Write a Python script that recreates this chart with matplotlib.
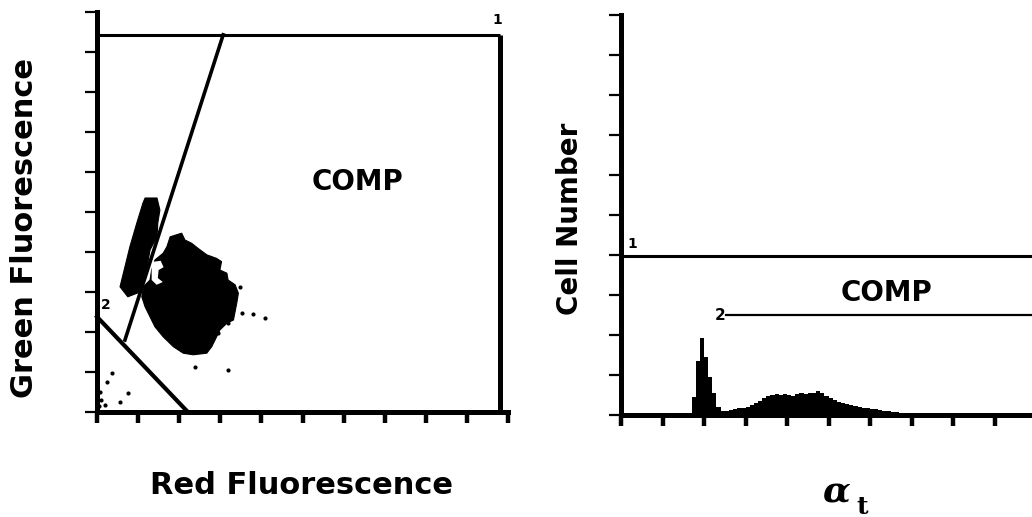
import numpy as np
import matplotlib
matplotlib.use("Agg")
import matplotlib.pyplot as plt

# ---------------- data ----------------
# Left panel: dense cell populations (outline vertices, data units 0-10)
streak_x = [1.17, 1.46, 1.53, 1.48, 1.46, 1.29, 1.22, 1.09, 1.00, 0.75, 0.56, 0.68, 0.80, 0.97, 1.12]
streak_y = [5.35, 5.35, 5.05, 4.73, 4.38, 4.05, 3.63, 3.23, 2.98, 2.88, 3.13, 3.63, 4.13, 4.73, 5.23]

blob_x = [1.78, 2.06, 2.14, 2.30, 2.46, 2.67, 2.91, 3.03, 2.99, 3.16, 3.19, 3.36, 3.44, 3.40, 3.32, 3.16,
          2.99, 2.91, 2.79, 2.67, 2.34, 2.10, 1.86, 1.61, 1.41, 1.29, 1.17, 1.09, 1.13, 1.29, 1.33, 1.41,
          1.61, 1.70]
blob_y = [4.38, 4.47, 4.30, 4.22, 4.09, 3.93, 3.84, 3.76, 3.55, 3.47, 3.30, 3.18, 2.97, 2.72, 2.30, 2.22,
          2.05, 1.88, 1.63, 1.47, 1.43, 1.47, 1.63, 1.88, 2.13, 2.38, 2.63, 2.88, 3.13, 3.30, 3.55, 3.80,
          3.97, 4.13]

hole_x = [1.33, 1.55, 1.62, 1.50, 1.48, 1.60, 1.45, 1.33]
hole_y = [3.75, 3.78, 3.62, 3.55, 3.35, 3.25, 3.18, 3.30]

# sparse events
dots_x = [3.53, 3.80, 4.09, 2.38, 3.19, 0.36, 0.24, 0.75, 0.56, 0.19, 0.08, 0.10, 0.06, 3.48, 3.19, 2.94, 2.75]
dots_y = [2.48, 2.45, 2.35, 1.13, 1.05, 0.98, 0.75, 0.48, 0.25, 0.18, 0.50, 0.30, 0.15, 3.13, 2.22, 1.97, 1.75]

# gates (left panel)
gate_box_x = [0.0, 9.8, 9.8]
gate_box_y = [9.43, 9.43, 0.0]
gate_diag_x = [0.68, 3.07]
gate_diag_y = [1.80, 9.43]
gate2_x = [0.0, 2.21]
gate2_y = [2.38, 0.0]

# Right panel: histogram of alpha_t
hist_start = 1.5
hist_width = 0.1
hist_counts = [0.03, 0.05, 0.45, 1.35, 1.93, 1.45, 0.95, 0.55, 0.20, 0.10,
               0.09, 0.12, 0.15, 0.17, 0.18, 0.20, 0.26, 0.30, 0.35, 0.42,
               0.48, 0.50, 0.52, 0.50, 0.53, 0.50, 0.48, 0.52, 0.55, 0.53,
               0.56, 0.55, 0.60, 0.55, 0.47, 0.42, 0.38, 0.33, 0.30, 0.27,
               0.25, 0.23, 0.20, 0.18, 0.17, 0.15, 0.14, 0.12, 0.10, 0.09,
               0.08, 0.07, 0.06, 0.05, 0.04, 0.04, 0.03, 0.03, 0.02, 0.02]
marker1_y = 3.98
marker2_y = 2.50
marker2_x0 = 2.53

ticks = list(range(0, 11))

# ---------------- figure ----------------
W, H = 1032, 517
fig = plt.figure(figsize=(W / 100, H / 100), dpi=100)
fig.patch.set_facecolor("white")

def style(ax):
    ax.set_xlim(0, 10)
    ax.set_ylim(0, 10)
    for s in ("top", "right"):
        ax.spines[s].set_visible(False)
    ax.spines["left"].set_linewidth(3.6)
    ax.spines["bottom"].set_linewidth(3.6)
    ax.set_xticks(ticks)
    ax.set_yticks(ticks)
    ax.set_xticklabels([])
    ax.set_yticklabels([])
    ax.tick_params(axis="x", direction="out", length=8, width=3.2, color="black")
    ax.tick_params(axis="y", direction="out", length=9, width=1.6, color="black")
    ax.set_facecolor("white")

# Left panel
ax1 = fig.add_axes([97 / W, 105 / H, 411 / W, 400 / H])
style(ax1)
ax1.fill(streak_x, streak_y, color="black", lw=0.8, ec="black")
ax1.fill(blob_x, blob_y, color="black", lw=0.8, ec="black")
ax1.fill(hole_x, hole_y, color="white", lw=0)
ax1.scatter(dots_x, dots_y, s=9, color="black", lw=0)
ax1.plot(gate_box_x[:2], gate_box_y[:2], color="black", lw=2.2, clip_on=False, solid_capstyle="butt")
ax1.plot(gate_box_x[1:], gate_box_y[1:], color="black", lw=3.6, clip_on=False, solid_capstyle="butt")
ax1.plot(gate_diag_x, gate_diag_y, color="black", lw=2.6, clip_on=False)
ax1.plot(gate2_x, gate2_y, color="black", lw=3.0, clip_on=False)
ax1.text(9.73, 9.8, "1", fontsize=10, fontweight="bold", ha="center", va="center", family="DejaVu Sans")
ax1.text(0.22, 2.68, "2", fontsize=10, fontweight="bold", ha="center", va="center", family="DejaVu Sans")
ax1.text(6.33, 5.75, "COMP", fontsize=20, fontweight="bold", ha="center", va="center", family="DejaVu Sans")

# Right panel
ax2 = fig.add_axes([621 / W, 102 / H, 415 / W, 400 / H])
style(ax2)
edges = hist_start + hist_width * np.arange(len(hist_counts) + 1)
ax2.stairs(hist_counts, edges, fill=True, color="black", lw=0)
ax2.axhline(marker1_y, xmin=0, xmax=1, color="black", lw=2.2)
ax2.plot([marker2_x0, 10], [marker2_y, marker2_y], color="black", lw=1.6, clip_on=False)
ax2.text(0.27, 4.28, "1", fontsize=10, fontweight="bold", ha="center", va="center", family="DejaVu Sans")
ax2.text(2.38, 2.5, "2", fontsize=11, fontweight="bold", ha="center", va="center", family="DejaVu Sans")
ax2.text(6.39, 3.05, "COMP", fontsize=20, fontweight="bold", ha="center", va="center", family="DejaVu Sans")

# Axis titles
fig.text(25 / W, 1 - 228 / H, "Green Fluorescence", rotation=90, fontsize=22, fontweight="bold",
         ha="center", va="center", family="DejaVu Sans")
fig.text(301 / W, 1 - 485 / H, "Red Fluorescence", fontsize=22, fontweight="bold",
         ha="center", va="center", family="DejaVu Sans")
fig.text(570 / W, 1 - 219 / H, "Cell Number", rotation=90, fontsize=20, fontweight="bold",
         ha="center", va="center", family="DejaVu Sans")
fig.text(836 / W, 1 - 492 / H, "\u03b1", fontsize=26, fontweight="bold", style="italic",
         ha="center", va="center", family="DejaVu Serif")
fig.text(862 / W, 1 - 507 / H, "t", fontsize=18, fontweight="bold",
         ha="center", va="center", family="DejaVu Serif")

fig.savefig("out.png", dpi=100, facecolor="white")
